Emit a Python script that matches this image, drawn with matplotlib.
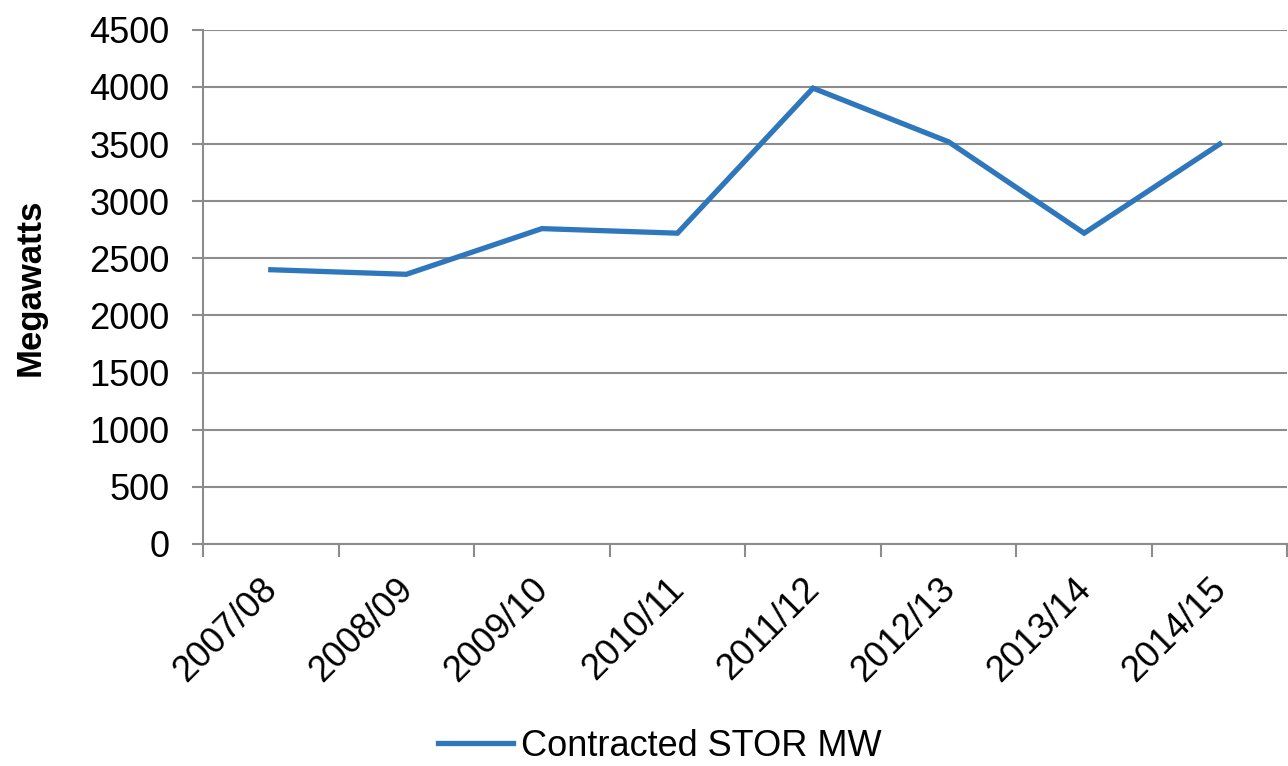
import numpy as np
import matplotlib.pyplot as plt
import matplotlib.transforms as mtransforms

plt.rcParams['font.family'] = ['Liberation Sans', 'DejaVu Sans']

# Data
years = ['2007/08', '2008/09', '2009/10', '2010/11',
         '2011/12', '2012/13', '2013/14', '2014/15']
stor_mw = [2400, 2360, 2760, 2720, 3990, 3520, 2720, 3500]

x = np.arange(len(years))

fig = plt.figure(figsize=(12.88, 7.66), dpi=100)
ax = fig.add_axes([0.1576, 0.290, 0.842, 0.671])

ax.plot(x, stor_mw, color='#2F77BC', linewidth=3.8, label='Contracted STOR MW',
        solid_joinstyle='miter', zorder=3)

# Axes limits and grid
ax.set_xlim(-0.5, len(years) - 0.5)
ax.set_ylim(0, 4500)
ax.set_yticks(np.arange(0, 4501, 500))
ax.yaxis.grid(True, color='#8c8c8c', linewidth=1.5)
ax.set_axisbelow(True)

# Category labels at centres, tick marks at boundaries
ax.set_xticks(x)
ax.set_xticklabels(years, rotation=45, ha='right', va='top',
                   rotation_mode='anchor', fontsize=26)
ax.tick_params(axis='x', which='major', length=0, pad=20)
shift = mtransforms.ScaledTranslation(-8 / 72, 0, fig.dpi_scale_trans)
for lbl in ax.get_xticklabels():
    lbl.set_transform(lbl.get_transform() + shift)
ax.set_xticks(np.arange(-0.5, len(years) + 0.5, 1), minor=True)
ax.tick_params(axis='x', which='minor', length=9, width=1.5, color='#8c8c8c')
ax.tick_params(axis='y', length=8, width=1.5, color='#8c8c8c', labelsize=26, pad=16)

for s in ['top', 'right']:
    ax.spines[s].set_visible(False)
for s in ['left', 'bottom']:
    ax.spines[s].set_color('#8c8c8c')
    ax.spines[s].set_linewidth(1.5)

ax.set_ylabel('Megawatts', fontsize=25, fontweight='bold', labelpad=31)

fig.legend(loc='center', bbox_to_anchor=(0.512, 0.026), frameon=False,
           fontsize=26, handlelength=2.1, handletextpad=0.2)

fig.savefig('out.png', dpi=100)
